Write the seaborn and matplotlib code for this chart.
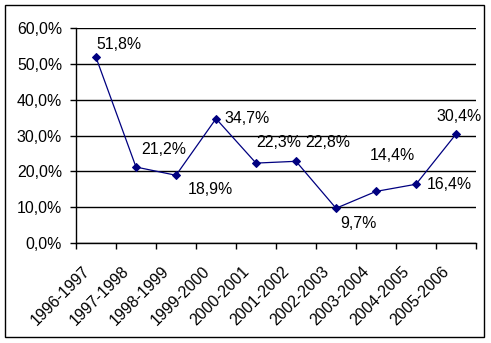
import matplotlib
matplotlib.use("Agg")
import matplotlib.pyplot as plt
from matplotlib.patches import Rectangle
from matplotlib.ticker import FixedLocator, FuncFormatter
import seaborn as sns
import pandas as pd

seasons = ["1996-1997", "1997-1998", "1998-1999", "1999-2000", "2000-2001",
           "2001-2002", "2002-2003", "2003-2004", "2004-2005", "2005-2006"]
rates = [51.8, 21.2, 18.9, 34.7, 22.3, 22.8, 9.7, 14.4, 16.4, 30.4]
y_ticks = [0, 10, 20, 30, 40, 50, 60]

# label offsets from each point, in pixels
label_offsets = [(23, 13), (28, 18), (34, -14), (31, 0), (23, 21),
                 (32, 19), (22, -15), (16, 36), (33, 0), (3, 18)]

sns.set_theme(style="white")
plt.rcParams["font.family"] = ["Liberation Sans", "DejaVu Sans"]

def pct(v, _=None):
    return f"{v:.1f}%".replace(".", ",")

df = pd.DataFrame({"pos": range(len(seasons)), "rate": rates})

fig = plt.figure(figsize=(4.91, 3.43), dpi=100)
fig.patch.set_facecolor("white")
ax = fig.add_axes([0.1548, 0.2915, 0.8147, 0.6269])

ax.yaxis.grid(True, color="black", linewidth=1.0)
ax.set_axisbelow(True)

sns.lineplot(data=df, x="pos", y="rate", ax=ax, color="#000080",
             linewidth=0.9, marker="D", markersize=4.5,
             markeredgecolor="#000080", markerfacecolor="#000080")

for i, (v, off) in enumerate(zip(rates, label_offsets)):
    ax.annotate(pct(v), (i, v), xytext=off,
                textcoords="offset pixels", ha="center", va="center",
                fontsize=11.4, color="black")

ax.set_xlim(-0.5, len(seasons) - 0.5)
ax.set_ylim(0, 60)
ax.yaxis.set_major_locator(FixedLocator(y_ticks))
ax.yaxis.set_major_formatter(FuncFormatter(pct))

# category labels, slanted below each category
ax.set_xticks(range(len(seasons)))
ax.set_xticklabels([])
xlab = ax.get_xaxis_transform()
for i, s in enumerate(seasons):
    ax.annotate(s, (i, 0), xycoords=xlab, xytext=(-9, -26),
                textcoords="offset pixels", rotation=45,
                rotation_mode="anchor", ha="right", va="center",
                fontsize=11.4, color="black", annotation_clip=False)

ax.xaxis.set_minor_locator(FixedLocator([k - 0.5 for k in range(len(seasons) + 1)]))
ax.tick_params(axis="x", which="major", length=0)
ax.tick_params(axis="x", which="minor", length=4, width=1, color="black",
               direction="out", bottom=True)
ax.tick_params(axis="y", length=4, width=1, color="black", direction="out",
               left=True, labelsize=11.4, pad=6)
for lab in ax.get_yticklabels():
    lab.set_color("black")

ax.set_xlabel("")
ax.set_ylabel("")
for side in ["top", "right"]:
    ax.spines[side].set_visible(False)
for side in ["left", "bottom"]:
    ax.spines[side].set_color("black")
    ax.spines[side].set_linewidth(1.0)

# outer chart frame
fig.patches.append(Rectangle((5 / 491, 6 / 343), 479 / 491, 332 / 343,
                             transform=fig.transFigure, fill=False,
                             edgecolor="black", linewidth=1.0))

fig.savefig("out.png", dpi=100, facecolor="white")
